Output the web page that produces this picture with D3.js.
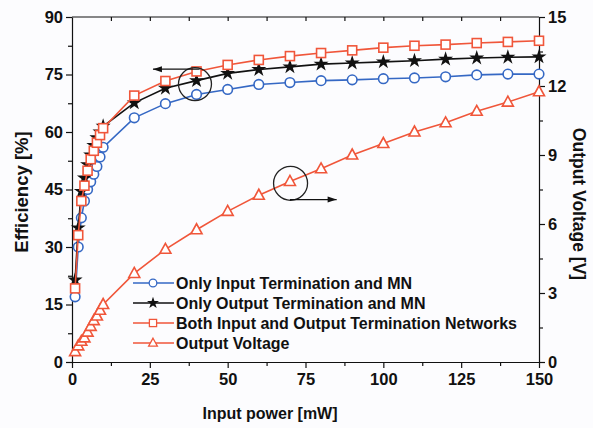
<!DOCTYPE html>
<html>
<head>
<meta charset="utf-8">
<script src="https://cdn.jsdelivr.net/npm/d3@7"></script>
<style>
  body { margin: 0; background: #fcfcfe; }
  svg { display: block; }
  text { font-family: "Liberation Sans", Arial, sans-serif; font-weight: bold; fill: #111; }
  .axis path, .axis line { stroke: #111; stroke-width: 1.2; }
</style>
</head>
<body>
<svg id="chart" width="593" height="428"></svg>
<script>
// input power [mW]
var power = [1, 2, 3, 4, 5, 6, 7, 8, 9, 10, 20, 30, 40, 50, 60, 70, 80, 90, 100, 110, 120, 130, 140, 150];
// efficiency [%]
var effInput  = [17, 30, 37.6, 42, 45, 47, 49, 51, 53.5, 56, 63.7, 67.4, 69.8, 71.1, 72.4, 72.9, 73.4, 73.6, 73.9, 74.1, 74.4, 74.9, 75.1, 75.1];
var effOutput = [21.4, 35, 44.5, 48, 51.5, 54, 56.5, 58.5, 60, 61.5, 67.6, 71.4, 73.4, 75.3, 76.3, 77.0, 77.7, 78.0, 78.3, 78.6, 79.0, 79.3, 79.5, 79.6];
var effBoth   = [19.2, 33.1, 42, 46, 49.9, 52.9, 55.1, 57.2, 59.2, 61, 69.5, 73.3, 75.8, 77.5, 78.8, 79.8, 80.6, 81.3, 82.0, 82.5, 82.8, 83.2, 83.5, 83.8];
// output voltage [V]
var voltage   = [0.45, 0.7, 0.9, 1.05, 1.3, 1.55, 1.8, 2.0, 2.25, 2.5, 3.85, 4.9, 5.75, 6.55, 7.25, 7.85, 8.4, 9.0, 9.5, 10.0, 10.4, 10.9, 11.3, 11.75];

var xTicks = [0, 25, 50, 75, 100, 125, 150];
var effTicks = [0, 15, 30, 45, 60, 75, 90];
var voltTicks = [0, 3, 6, 9, 12, 15];

var legendNames = ['Only Input Termination and MN', 'Only Output Termination and MN',
  'Both Input and Output Termination Networks', 'Output Voltage'];

var RED = '#f0563a', BLUE = '#3568c4', BLACK = '#111';

var svg = d3.select('#chart');
var plotL = 72, plotR = 539, plotT = 17, plotB = 362;

var x = d3.scaleLinear().domain([0, 150]).range([plotL, plotR]);
var yEff = d3.scaleLinear().domain([0, 90]).range([plotB, plotT]);
var yVolt = d3.scaleLinear().domain([0, 15]).range([plotB, plotT]);

function minorTicks(major) {
  var out = [];
  for (var i = 0; i < major.length - 1; i++) out.push((major[i] + major[i + 1]) / 2);
  return out;
}

// top frame line
svg.append('line').attr('x1', plotL).attr('x2', plotR).attr('y1', plotT).attr('y2', plotT)
  .attr('stroke', '#111').attr('stroke-width', 1.2);

// minor ticks
function addMinor(axisFn, scale, major, transform) {
  svg.append('g').attr('class', 'axis').attr('transform', transform)
    .call(axisFn(scale).tickValues(minorTicks(major)).tickSize(4).tickFormat(''))
    .select('.domain').remove();
}

addMinor(d3.axisBottom, x, xTicks, 'translate(0,' + plotB + ')');
addMinor(d3.axisLeft, yEff, effTicks, 'translate(' + plotL + ',0)');
addMinor(d3.axisRight, yVolt, voltTicks, 'translate(' + plotR + ',0)');
svg.append('g').attr('class', 'axis').attr('transform', 'translate(0,' + plotT + ')')
  .call(d3.axisBottom(x).tickValues(xTicks.concat(minorTicks(xTicks)).filter(function(v) { return v > 0 && v < 150; })).tickSize(4).tickFormat(''))
  .select('.domain').remove();

var gx = svg.append('g').attr('class', 'axis').attr('transform', 'translate(0,' + plotB + ')')
  .call(d3.axisBottom(x).tickValues(xTicks).tickSize(6).tickSizeOuter(0).tickPadding(5));
var gl = svg.append('g').attr('class', 'axis').attr('transform', 'translate(' + plotL + ',0)')
  .call(d3.axisLeft(yEff).tickValues(effTicks).tickSize(6).tickSizeOuter(0).tickPadding(3));
var gr = svg.append('g').attr('class', 'axis').attr('transform', 'translate(' + plotR + ',0)')
  .call(d3.axisRight(yVolt).tickValues(voltTicks).tickSize(6).tickSizeOuter(0).tickPadding(3));

[gx, gl, gr].forEach(function(g) {
  g.selectAll('text').style('font-size', '16.5px').style('font-family', '"Liberation Sans", Arial, sans-serif')
    .style('font-weight', 'bold').attr('fill', '#111');
});

// axis titles
svg.append('text').attr('x', 270).attr('y', 419).attr('text-anchor', 'middle')
  .style('font-size', '16px').text('Input power [mW]');
svg.append('text').attr('transform', 'translate(28,192) rotate(-90)').attr('text-anchor', 'middle')
  .style('font-size', '18.5px').text('Efficiency [%]');
svg.append('text').attr('transform', 'translate(573,204) rotate(90)').attr('text-anchor', 'middle')
  .style('font-size', '17.5px').text('Output Voltage [V]');

var series = [
  {values: effInput, y: yEff, color: BLUE, marker: 'circle'},
  {values: effOutput, y: yEff, color: BLACK, marker: 'star'},
  {values: effBoth, y: yEff, color: RED, marker: 'square'},
  {values: voltage, y: yVolt, color: RED, marker: 'triangle'}
];

function drawMarker(g, type, color) {
  if (type === 'circle') {
    g.append('circle').attr('r', 4.8).attr('fill', '#fff').attr('stroke', color).attr('stroke-width', 1.6);
  } else if (type === 'square') {
    g.append('rect').attr('x', -4.5).attr('y', -4.5).attr('width', 9).attr('height', 9)
      .attr('fill', '#fff').attr('stroke', color).attr('stroke-width', 1.6);
  } else if (type === 'triangle') {
    g.append('path').attr('d', 'M0,-6L5.5,4L-5.5,4Z')
      .attr('fill', '#fff').attr('stroke', color).attr('stroke-width', 1.6);
  } else {
    g.append('path').attr('d', d3.symbol().type(d3.symbolStar).size(70)())
      .attr('fill', color);
  }
}

// draw voltage first, then efficiency curves
[3, 0, 1, 2].forEach(function(k) {
  var s = series[k];
  var line = d3.line()
    .x(function(d, i) { return x(power[i]); })
    .y(function(d) { return s.y(d); });
  svg.append('path').datum(s.values).attr('d', line)
    .attr('fill', 'none').attr('stroke', s.color).attr('stroke-width', 1.6);
  svg.selectAll(null).data(s.values).enter().append('g')
    .attr('transform', function(d, i) { return 'translate(' + x(power[i]) + ',' + s.y(d) + ')'; })
    .each(function() { drawMarker(d3.select(this), s.marker, s.color); });
});

// annotation circles with arrows
function arrow(x1, y1, x2, y2) {
  svg.append('line').attr('x1', x1).attr('y1', y1).attr('x2', x2).attr('y2', y2)
    .attr('stroke', '#111').attr('stroke-width', 1.3);
  var dir = x2 < x1 ? 1 : -1;
  svg.append('path')
    .attr('d', 'M' + x2 + ',' + y2 + 'L' + (x2 + dir * 9) + ',' + (y2 - 3) + 'L' + (x2 + dir * 9) + ',' + (y2 + 3) + 'Z')
    .attr('fill', '#111');
}
svg.append('circle').attr('cx', x(39.5)).attr('cy', yEff(72.5)).attr('r', 16.5)
  .attr('fill', 'none').attr('stroke', '#222').attr('stroke-width', 1.3);
arrow(x(41), yEff(76.4), x(26), yEff(76.4));
svg.append('circle').attr('cx', x(70.2)).attr('cy', yVolt(7.77)).attr('r', 17)
  .attr('fill', 'none').attr('stroke', '#222').attr('stroke-width', 1.3);
arrow(x(70), yVolt(7.06), x(85), yVolt(7.06));

// legend
var legend = svg.append('g').attr('transform', 'translate(133,283)');
legendNames.forEach(function(name, i) {
  var g = legend.append('g').attr('transform', 'translate(0,' + (i * 20) + ')');
  g.append('line').attr('x1', 0).attr('x2', 41).attr('stroke', series[i].color).attr('stroke-width', 1.6);
  var m = g.append('g');
  drawMarker(m, series[i].marker, series[i].color);
  m.attr('transform', 'translate(20,0) scale(0.8)');
  g.append('text').attr('x', 43).attr('y', 5.5).style('font-size', '16px').text(name);
});
</script>
</body>
</html>
